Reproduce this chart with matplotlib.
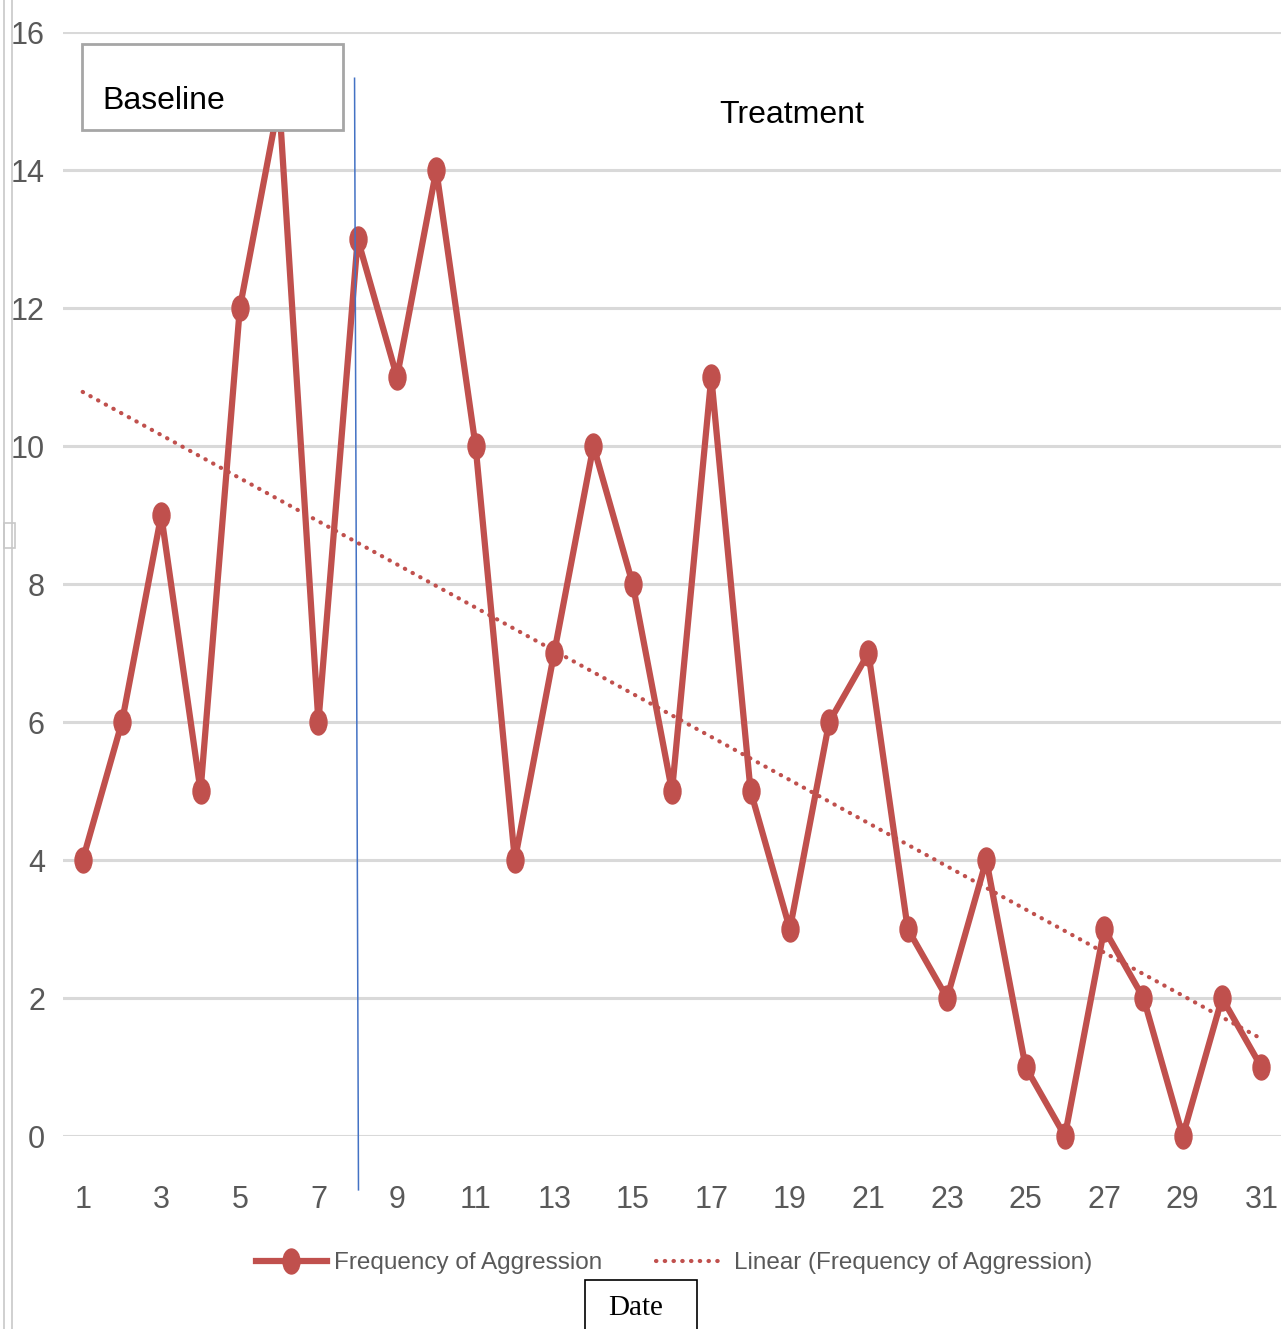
import numpy as np
import matplotlib
matplotlib.use("Agg")
import matplotlib.pyplot as plt
from matplotlib.path import Path
from matplotlib.transforms import Affine2D
from matplotlib.lines import Line2D
from matplotlib.patches import Rectangle

days = list(range(1, 32))
aggression = [4, 6, 9, 5, 12, 15, 6, 13, 11, 14, 10, 4, 7, 10, 8, 5, 11, 5, 3, 6,
              7, 3, 2, 4, 1, 0, 3, 2, 0, 2, 1]
xtick_vals = list(range(1, 32, 2))
ytick_vals = list(range(0, 17, 2))
phase_change = 8

RED = "#C0504D"
GREY_TXT = "#595959"
GRID = "#D9D9D9"
SANS = ["Liberation Sans", "DejaVu Sans"]

# linear trend, like Excel's "Linear (...)" trendline
slope, intercept = np.polyfit(days, aggression, 1)
trend = [slope * d + intercept for d in days]

# tall elliptic marker (source image is stretched vertically)
ellipse = Path.unit_circle().transformed(Affine2D().scale(0.68, 1.0))

fig = plt.figure(figsize=(12.81, 13.29), dpi=100)
ax = fig.add_axes([0.0492, 0.1452, 0.9508, 0.8307])

ax.plot(days, aggression, color=RED, lw=4.5, marker=ellipse, markersize=18,
        clip_on=False, zorder=3, label="Frequency of Aggression")
ax.plot(days, trend, color=RED, lw=3.0, linestyle=(0, (0.1, 2.0)),
        dash_capstyle="round", zorder=2, label="Linear (Frequency of Aggression)")

ax.set_xlim(0.5, 31.5)
ax.set_ylim(0, 16)
ax.set_xticks(xtick_vals)
ax.set_yticks(ytick_vals)
ax.grid(axis="y", color=GRID, lw=2.2)
ax.set_axisbelow(True)
for s in ax.spines.values():
    s.set_visible(False)
ax.tick_params(length=0, labelcolor=GREY_TXT, labelsize=22)
ax.tick_params(axis="y", pad=13)
ax.tick_params(axis="x", pad=35)
for lbl in ax.get_xticklabels() + ax.get_yticklabels():
    lbl.set_family(SANS)

# phase change line (slightly slanted in the source)
ax.plot([7.92, 8.02], [15.33, -0.78], color="#4472C4", lw=1.1, clip_on=False, zorder=4)

# Baseline box
fig.add_artist(Rectangle((82 / 1281, 1 - 130 / 1329), 261 / 1281, 86 / 1329,
                         transform=fig.transFigure, facecolor="white",
                         edgecolor="#A6A6A6", lw=2, zorder=5))
fig.text(102 / 1281, 1 - 101 / 1329, "Baseline", family=SANS, fontsize=23,
         color="black", ha="left", va="center", zorder=6)
fig.text(719 / 1281, 1 - 115 / 1329, "Treatment", family=SANS, fontsize=23,
         color="black", ha="left", va="center")

leg = ax.legend(loc="center", bbox_to_anchor=(674 / 1281, 1 - 1263 / 1329),
                bbox_transform=fig.transFigure, ncol=2, frameon=False,
                prop={"family": SANS, "size": 17.5}, handlelength=2.9,
                columnspacing=2.2, handletextpad=0.3)
for t in leg.get_texts():
    t.set_color(GREY_TXT)

# Date box at the bottom, clipped by the image edge
fig.add_artist(Rectangle((585 / 1281, 1 - 1340 / 1329), 112 / 1281, 60 / 1329,
                         transform=fig.transFigure, facecolor="white",
                         edgecolor="black", lw=1.2, zorder=5))
fig.text(636 / 1281, 1 - 1308 / 1329, "Date", family=["Liberation Serif", "DejaVu Serif"],
         fontsize=21, ha="center", va="center", zorder=6)

# left edge of the surrounding frame
for xp in (4, 12):
    fig.add_artist(Line2D([xp / 1281, xp / 1281], [0, 1], transform=fig.transFigure,
                          color="#C8C8C8", lw=1.2))
fig.add_artist(Rectangle((4 / 1281, 1 - 548 / 1329), 11 / 1281, 25 / 1329,
                         transform=fig.transFigure, facecolor="white",
                         edgecolor="#C8C8C8", lw=1.2))

fig.savefig("out.png", dpi=100)
